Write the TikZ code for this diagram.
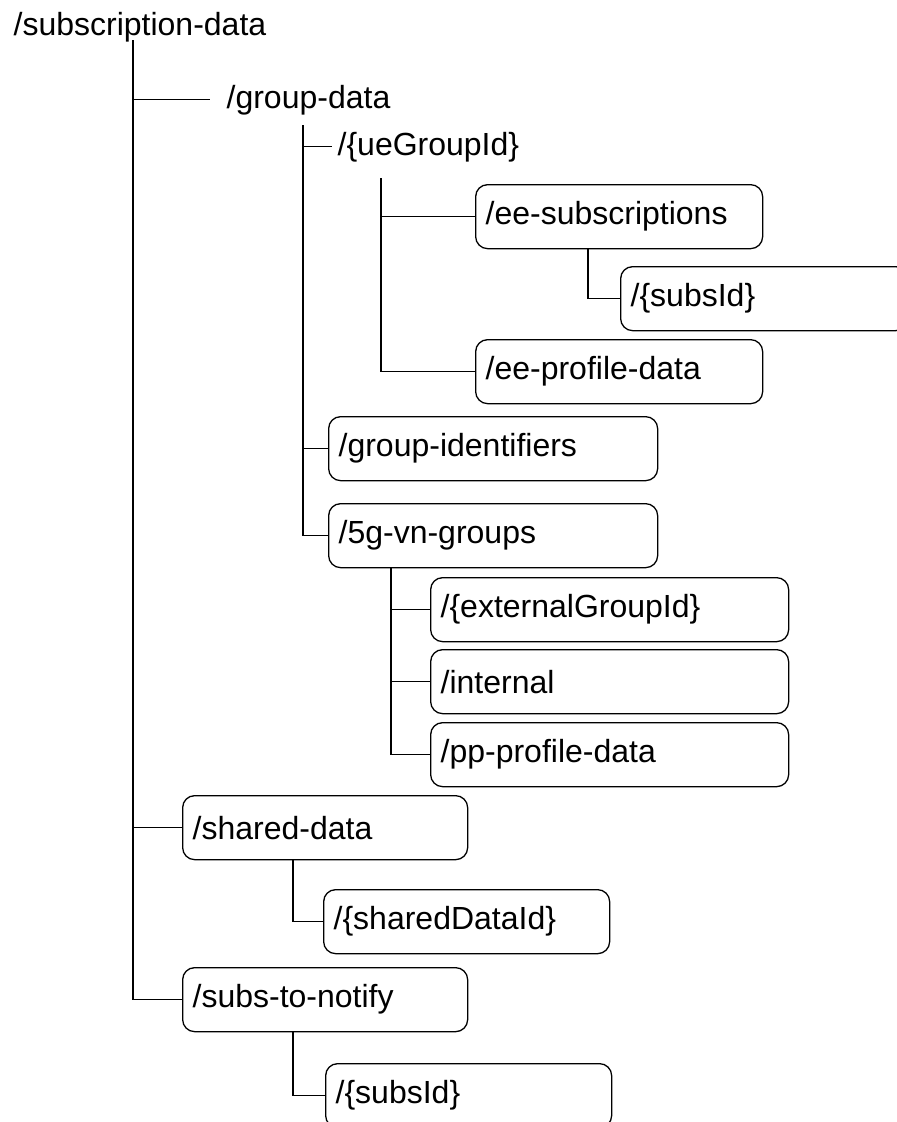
\documentclass[tikz,border=0pt]{standalone}
\usepackage{fontspec}
\setmainfont{Liberation Sans}
\usepackage{tikz}
\usetikzlibrary{positioning}

\begin{document}
\begin{tikzpicture}[x=1pt, y=-1pt, line width=1.3pt,
    every node/.style={font=\fontsize{32}{38}\selectfont},
    plainnode/.style={inner sep=0pt, anchor=base west},
    boxnode/.style={draw, rounded corners=12pt, anchor=north west, minimum height=64pt, text width=#1, inner xsep=10pt, align=left}
   ]
   \useasboundingbox (0,0) rectangle (897,1122);
   \clip (0,0) rectangle (897,1122);

   \node[plainnode] (subscriptiondata) at (13,35)  {/subscription-data};
   \node[plainnode] (groupdata)        at (226,108) {/group-data};
   \node[plainnode] (ueGroupId)        at (337,155) {/\{ueGroupId\}};

   \node[boxnode=267pt] (eeSubscriptions)  at (475,184)  {/ee-subscriptions};
   \node[boxnode=267pt] (eeSubsId)         at (620,266)  {/\{subsId\}};
   \node[boxnode=267pt] (eeProfileData)    at (475,339)  {/ee-profile-data};
   \node[boxnode=309pt] (groupIdentifiers) at (328,416)  {/group-identifiers};
   \node[boxnode=309pt] (vnGroups)         at (328,503)  {/5g-vn-groups};
   \node[boxnode=338pt] (externalGroupId)  at (430,577)  {/\{externalGroupId\}};
   \node[boxnode=338pt] (internal)         at (430,649)  {/internal};
   \node[boxnode=338pt] (ppProfileData)    at (430,722)  {/pp-profile-data};
   \node[boxnode=265pt] (sharedData)       at (182,795)  {/shared-data};
   \node[boxnode=266pt] (sharedDataId)     at (323,889)  {/\{sharedDataId\}};
   \node[boxnode=265pt] (subsToNotify)     at (182,967)  {/subs-to-notify};
   \node[boxnode=266pt] (notifySubsId)     at (325,1063) {/\{subsId\}};

   \coordinate (rootTrunk) at (133,40);
   \coordinate (gdTrunk)   at (303,125);
   \coordinate (ueTrunk)   at (381,178);

  \draw (rootTrunk) |- (subsToNotify.west);
  \draw (rootTrunk |- sharedData.west) -- (sharedData.west);
  \draw (rootTrunk |- groupdata.west) -- ([xshift=-16pt]groupdata.west);
  \draw (gdTrunk) |- (vnGroups.west);
  \draw (gdTrunk |- ueGroupId.west) -- ([xshift=-5pt]ueGroupId.west);
  \draw (gdTrunk |- groupIdentifiers.west) -- (groupIdentifiers.west);
  \draw (ueTrunk) |- (eeProfileData.west);
  \draw (ueTrunk |- eeSubscriptions.west) -- (eeSubscriptions.west);
  \draw ([xshift=113pt]eeSubscriptions.south west) |- (eeSubsId.west);
  \draw ([xshift=63pt]vnGroups.south west) |- (ppProfileData.west);
  \draw ([xshift=63pt]vnGroups.south west |- externalGroupId.west) -- (externalGroupId.west);
  \draw ([xshift=63pt]vnGroups.south west |- internal.west) -- (internal.west);
  \draw ([xshift=111pt]sharedData.south west) |- (sharedDataId.west);
  \draw ([xshift=111pt]subsToNotify.south west) |- (notifySubsId.west);
 \end{tikzpicture}
\end{document}
